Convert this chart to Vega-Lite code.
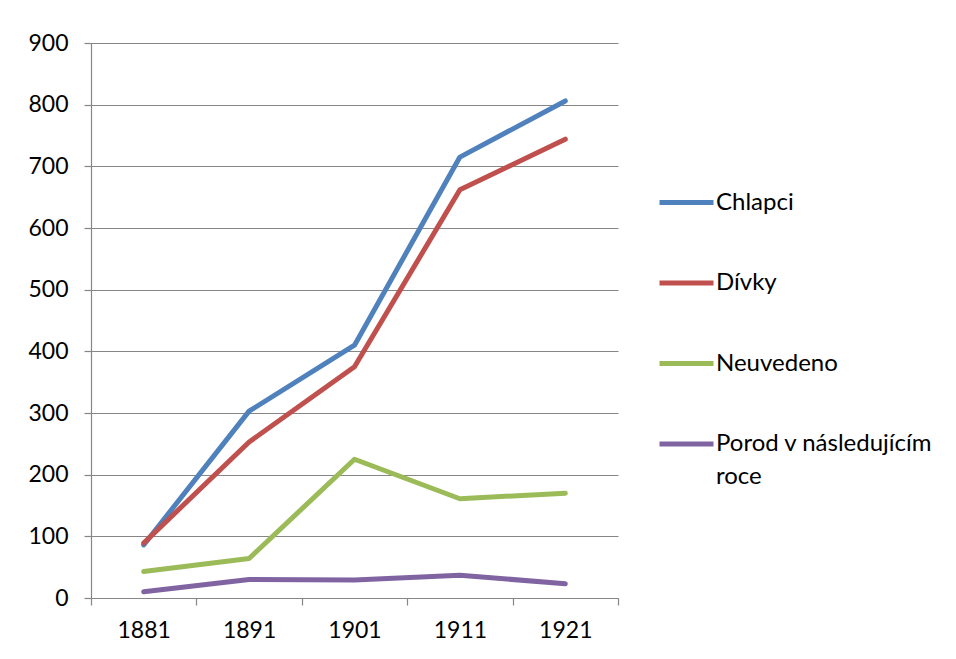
{
  "$schema": "https://vega.github.io/schema/vega-lite/v6.json",
  "width": 527,
  "height": 555,
  "autosize": "none",
  "padding": {"left": 91, "top": 43, "right": 338, "bottom": 61},
  "background": "white",
  "config": {
    "font": "Lato",
    "view": {"stroke": null},
    "style": {"guide-label": {"lineHeight": 33}},
    "axis": {"labelFont": "Lato", "labelFontSize": 23, "labelColor": "#000000", "domainColor": "#868686", "tickColor": "#868686", "gridColor": "#868686", "domainWidth": 1.2, "tickWidth": 1.2, "gridWidth": 1.2}
  },
  "data": {
    "values": [
      {"rok": "1881", "skupina": "Chlapci", "pocet": 86},
      {"rok": "1891", "skupina": "Chlapci", "pocet": 303},
      {"rok": "1901", "skupina": "Chlapci", "pocet": 410},
      {"rok": "1911", "skupina": "Chlapci", "pocet": 715},
      {"rok": "1921", "skupina": "Chlapci", "pocet": 806},
      {"rok": "1881", "skupina": "Dívky", "pocet": 89},
      {"rok": "1891", "skupina": "Dívky", "pocet": 253},
      {"rok": "1901", "skupina": "Dívky", "pocet": 375},
      {"rok": "1911", "skupina": "Dívky", "pocet": 662},
      {"rok": "1921", "skupina": "Dívky", "pocet": 744},
      {"rok": "1881", "skupina": "Neuvedeno", "pocet": 43},
      {"rok": "1891", "skupina": "Neuvedeno", "pocet": 64},
      {"rok": "1901", "skupina": "Neuvedeno", "pocet": 225},
      {"rok": "1911", "skupina": "Neuvedeno", "pocet": 161},
      {"rok": "1921", "skupina": "Neuvedeno", "pocet": 170},
      {"rok": "1881", "skupina": "Porod v následujícím roce", "pocet": 10},
      {"rok": "1891", "skupina": "Porod v následujícím roce", "pocet": 30},
      {"rok": "1901", "skupina": "Porod v následujícím roce", "pocet": 29},
      {"rok": "1911", "skupina": "Porod v následujícím roce", "pocet": 37},
      {"rok": "1921", "skupina": "Porod v následujícím roce", "pocet": 23}
    ]
  },
  "mark": {"type": "line", "strokeWidth": 5, "strokeCap": "round", "strokeJoin": "round"},
  "encoding": {
    "x": {
      "field": "rok",
      "type": "ordinal",
      "bandPosition": 0.5,
      "scale": {"type": "band", "paddingInner": 0, "paddingOuter": 0},
      "axis": {"title": null, "labelAngle": 0, "tickBand": "extent", "tickSize": 7, "labelPadding": 14, "grid": false}
    },
    "y": {
      "field": "pocet",
      "type": "quantitative",
      "scale": {"domain": [0, 900], "nice": false},
      "axis": {"title": null, "values": [0, 100, 200, 300, 400, 500, 600, 700, 800, 900], "tickSize": 7, "labelPadding": 16, "grid": true}
    },
    "color": {
      "field": "skupina",
      "type": "nominal",
      "scale": {"domain": ["Chlapci", "Dívky", "Neuvedeno", "Porod v následujícím roce"], "range": ["#4F81BD", "#C0504D", "#9BBB59", "#8064A2"]},
      "legend": {
        "title": null,
        "orient": "none",
        "legendX": 566,
        "legendY": 130,
        "padding": 0,
        "symbolType": "stroke",
        "symbolSize": 2916,
        "symbolStrokeWidth": 5,
        "labelFont": "Lato",
        "labelFontSize": 24,
        "labelColor": "#000000",
        "labelOffset": 0,
        "labelLimit": 400,
        "rowPadding": 38.5,
        "labelExpr": "datum.label == 'Porod v následujícím roce' ? ['Porod v následujícím', 'roce'] : datum.label"
      }
    }
  }
}
